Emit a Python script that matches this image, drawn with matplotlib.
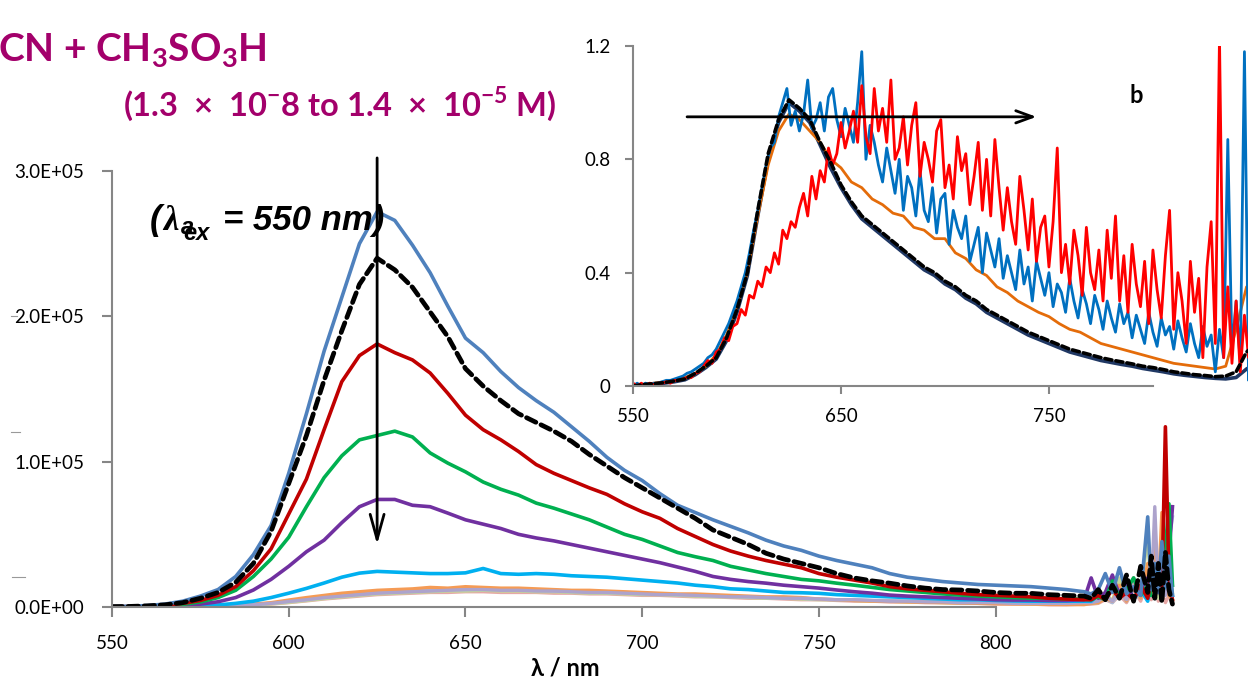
import matplotlib
matplotlib.use('Agg')
import matplotlib.pyplot as plt
from matplotlib.lines import Line2D

plt.rcParams['font.family'] = ['Lato', 'DejaVu Sans']

W, H = 1248, 680

# ---- main panel: emission spectra, counts in thousands ----
wl = list(range(550, 826, 5)) + [827, 829, 831, 833, 835, 837, 839, 841, 843,
                                  844, 845, 846, 847, 848, 849, 850]

blue_k = [0.3, 0.5, 1.0, 2.0, 4.0, 7.5, 12, 21, 36, 56,
          92, 133, 176, 213, 250, 272, 266, 249, 230, 207,
          185, 175, 162, 151, 142, 134, 124, 114, 103, 94,
          87, 78, 70, 65, 60, 55.5, 51, 46, 42, 39,
          35, 32, 29.5, 27, 23, 20.5, 19, 17.5, 16.5, 15.5,
          15, 14.5, 14, 13, 12, 10.5,
          9, 12, 23, 10, 27, 9, 14, 8, 62, 12, 30, 10, 45, 14, 35, 8]
black_k = [0.3, 0.4, 0.8, 1.5, 3.0, 6.0, 10, 17, 30, 52,
           85, 118, 156, 190, 222, 240, 232, 220, 203, 186,
           164, 152, 142, 133, 127, 121, 114, 105, 97, 89,
           82, 75, 68, 61, 53, 48, 43, 37, 33, 30,
           27, 23, 20, 18, 16.4, 14.5, 13, 12, 11.7, 11,
           10, 9.5, 9.4, 8.5, 8, 7.5,
           6, 12, 5, 15, 6, 22, 4, 28, 10, 35, 6, 30, 3, 38, 12, 2]
red_k = [0.2, 0.3, 0.6, 1.2, 2.5, 4.5, 8, 14, 25, 40,
         64, 88, 122, 155, 173, 181, 175, 170, 161, 147,
         132, 122, 115, 107, 98, 92, 87, 82, 77.5, 71,
         65.5, 61, 54, 48.5, 43, 38.5, 35, 32, 29.5, 27,
         23, 20.5, 18.5, 16.5, 14, 12.5, 11.5, 10.5, 9.4, 8.5,
         8, 7.5, 7, 6, 5.5, 5,
         5, 8, 5, 12, 6, 10, 5, 15, 6, 20, 8, 15, 10, 124, 20, 5]
green_k = [0.1, 0.2, 0.4, 0.9, 1.8, 3.5, 6.5, 11.5, 21, 33,
           48, 69, 89, 104, 115, 118, 121, 117, 106, 99,
           93, 86, 81, 77, 71.5, 68, 64, 60, 55, 50,
           46.5, 42, 37.5, 34.6, 32, 28, 25.5, 23, 21, 19,
           18, 16.4, 15, 13.5, 12, 11, 10, 9, 8.2, 7.5,
           7, 6.5, 6, 6, 5.5, 5.5,
           5, 7, 5, 18, 6, 12, 20, 8, 15, 8, 25, 12, 30, 40, 71, 15]
purple_k = [0.1, 0.1, 0.2, 0.5, 1.0, 2.0, 3.6, 6.5, 11.7, 19,
            28, 38, 46, 58, 69, 74, 74, 70, 69, 64.6,
            60, 57, 54, 50, 47.5, 45.5, 43, 40.5, 38, 35.5,
            33, 30.5, 27.5, 24.5, 21, 19, 17.5, 16.4, 15, 14,
            13, 11.7, 10.5, 9.5, 8.2, 7.5, 7, 6.5, 6, 5.5,
            5, 4.8, 4.8, 4.5, 4.5, 5,
            20, 6, 10, 22, 8, 15, 6, 12, 20, 8, 15, 10, 25, 15, 35, 69]
ltblue_k = [0, 0.1, 0.1, 0.2, 0.4, 0.8, 1.4, 2.5, 4.0, 6.5,
            9.5, 12.8, 16.5, 20.5, 23.3, 24.5, 24, 23.5, 23, 23,
            23.5, 26.5, 23, 22.5, 23, 22.5, 21.5, 21, 20.5, 19.5,
            18.5, 17.5, 16.5, 15, 14, 12.5, 12, 11, 10, 9.8,
            9.4, 8.5, 8, 7.5, 7, 6.5, 6, 5.5, 5, 5,
            4.5, 4.2, 4, 4, 4, 4,
            4, 8, 5, 15, 6, 18, 5, 12, 4, 20, 8, 30, 10, 15, 25, 8]
orange_k = [0, 0, 0.1, 0.2, 0.3, 0.5, 0.8, 1.2, 2.0, 3.0,
            4.8, 6.5, 8.0, 9.5, 10.5, 11.5, 12, 12.5, 13.5, 13,
            14, 13.5, 13, 13, 12.5, 12, 11.5, 11.5, 11, 10.5,
            10, 9.5, 9, 9, 8.5, 8, 7.5, 7, 7, 6.5,
            5.5, 5, 4.5, 4, 3.8, 3.5, 3.2, 3, 2.8, 2.5,
            2.3, 2.1, 2, 1.8, 1.7, 1.6,
            2.5, 3, 6, 4, 15, 4, 20, 6, 30, 8, 45, 10, 65, 20, 8, 5]
lavender_k = [0, 0, 0.1, 0.1, 0.2, 0.4, 0.6, 1.0, 1.6, 2.5,
              3.8, 5.0, 6.5, 7.5, 8.5, 9.5, 10, 10.5, 11, 11.5,
              12, 12, 11.5, 11.5, 11, 11, 10.5, 10, 10, 9.5,
              9, 8.5, 8.5, 8, 7.5, 7, 7, 6.5, 6, 6,
              5.5, 5, 5, 4.5, 4, 4, 3.5, 3.5, 3, 3,
              3, 2.5, 2.5, 2.5, 2.5, 3,
              3, 4, 8, 4, 12, 5, 20, 8, 15, 10, 69, 10, 25, 8, 30, 15]
ltgreen_k = [0, 0, 0.1, 0.1, 0.2, 0.3, 0.5, 0.9, 1.4, 2.2,
             3.2, 4.5, 5.8, 7, 8, 9, 9.5, 10, 10.5, 11,
             11, 11.5, 11, 11, 10.5, 10.5, 10, 9.5, 9.5, 9,
             8.5, 8.5, 8, 7.5, 7, 7, 6.5, 6, 6, 5.5,
             5, 5, 4.5, 4, 4, 3.5, 3.5, 3, 3, 2.5,
             2.5, 2.5, 2, 2, 2, 2.5,
             2.5, 3, 10, 4, 20, 6, 15, 10, 48, 10, 25, 6, 50, 12, 35, 10]
pink_k = [0, 0, 0, 0.1, 0.2, 0.3, 0.5, 0.8, 1.3, 2.0,
          3.0, 4.2, 5.5, 6.5, 7.5, 8.5, 9, 9.5, 10, 10,
          10.5, 10.5, 10, 10, 10, 9.5, 9.5, 9, 9, 8.5,
          8, 8, 7.5, 7, 7, 6.5, 6, 6, 5.5, 5,
          5, 4.5, 4, 4, 3.5, 3.5, 3, 3, 2.5, 2.5,
          2, 2, 2, 1.5, 1.5, 2,
          2, 2.5, 5, 3, 8, 3, 12, 4, 18, 5, 14, 4, 10, 3, 8, 3]
steel_k = [0, 0, 0.1, 0.1, 0.2, 0.4, 0.6, 1.0, 1.7, 2.6,
           3.8, 5.2, 6.5, 7.8, 8.8, 9.8, 10.5, 11, 11.5, 12,
           12, 12.5, 12, 12, 11.5, 11, 11, 10.5, 10, 10,
           9.5, 9, 8.5, 8.5, 8, 7.5, 7, 6.5, 6.5, 6,
           5.5, 5, 5, 4.5, 4.5, 4, 4, 3.5, 3.5, 3,
           3, 3, 2.5, 2.5, 2.5, 3,
           3, 3.5, 6, 3, 10, 4, 15, 6, 25, 8, 40, 12, 30, 15, 45, 62]

# ---- inset: normalised spectra ----
ins_wl5 = list(range(550, 851, 5))
ins_wl2 = list(range(550, 851, 2))

ins_black = [0.0, 0.005, 0.008, 0.012, 0.018, 0.025, 0.045, 0.07, 0.10, 0.17,
             0.27, 0.40, 0.62, 0.82, 0.94, 1.01, 0.98, 0.94, 0.86, 0.79,
             0.71, 0.65, 0.60, 0.57, 0.54, 0.51, 0.48, 0.45, 0.42, 0.40,
             0.37, 0.35, 0.32, 0.30, 0.27, 0.25, 0.23, 0.21, 0.19, 0.175,
             0.16, 0.145, 0.13, 0.12, 0.11, 0.10, 0.092, 0.085, 0.078, 0.07,
             0.065, 0.058, 0.05, 0.045, 0.04, 0.037, 0.033, 0.035, 0.05, 0.12,
             0.15]
ins_navy = [0.0, 0.003, 0.006, 0.01, 0.015, 0.022, 0.04, 0.065, 0.095, 0.16,
            0.26, 0.39, 0.60, 0.80, 0.93, 1.0, 0.97, 0.93, 0.85, 0.77,
            0.70, 0.64, 0.59, 0.56, 0.53, 0.50, 0.47, 0.44, 0.41, 0.39,
            0.36, 0.34, 0.31, 0.29, 0.26, 0.24, 0.22, 0.20, 0.18, 0.165,
            0.15, 0.135, 0.12, 0.11, 0.10, 0.09, 0.083, 0.076, 0.07, 0.062,
            0.056, 0.05, 0.043, 0.038, 0.034, 0.03, 0.027, 0.025, 0.03, 0.06,
            0.08]
ins_orange = [0.0, 0.005, 0.01, 0.015, 0.02, 0.03, 0.045, 0.07, 0.11, 0.18,
              0.28, 0.40, 0.60, 0.78, 0.90, 0.96, 0.94, 0.90, 0.86, 0.80,
              0.77, 0.72, 0.70, 0.66, 0.64, 0.61, 0.60, 0.56, 0.55, 0.52,
              0.52, 0.47, 0.45, 0.41, 0.39, 0.35, 0.33, 0.30, 0.28, 0.26,
              0.245, 0.22, 0.20, 0.19, 0.17, 0.15, 0.14, 0.13, 0.12, 0.11,
              0.10, 0.09, 0.08, 0.075, 0.07, 0.065, 0.06, 0.07, 0.20, 0.35,
              0.2]
ins_blue = [0.0, 0.01, 0.0, 0.01, 0.005, 0.01, 0.01, 0.015, 0.02, 0.02,
            0.025, 0.03, 0.035, 0.045, 0.05, 0.06, 0.07, 0.08, 0.10, 0.11,
            0.13, 0.16, 0.19, 0.22, 0.26, 0.30, 0.35, 0.40, 0.47, 0.55,
            0.62, 0.70, 0.78, 0.84, 0.86, 0.95, 1.0, 1.05, 0.92, 0.97,
            0.90, 0.96, 1.08, 0.91, 0.94, 1.0, 0.90, 1.02, 1.05, 0.94,
            0.88, 0.98, 0.92, 0.86, 1.0, 1.18, 0.80, 0.92, 0.86, 0.78,
            0.72, 0.84, 0.76, 0.68, 0.80, 0.62, 0.74, 0.70, 0.60, 0.76,
            0.62, 0.58, 0.70, 0.54, 0.66, 0.68, 0.50, 0.62, 0.56, 0.52,
            0.60, 0.44, 0.50, 0.56, 0.40, 0.54, 0.48, 0.42, 0.52, 0.38,
            0.46, 0.40, 0.34, 0.48, 0.36, 0.42, 0.30, 0.44, 0.38, 0.32,
            0.40, 0.28, 0.36, 0.33, 0.26, 0.38, 0.30, 0.24, 0.34, 0.29,
            0.22, 0.32, 0.27, 0.20, 0.30, 0.24, 0.19, 0.29, 0.22, 0.26,
            0.17, 0.25, 0.20, 0.15, 0.26, 0.19, 0.14, 0.24, 0.18, 0.21,
            0.13, 0.23, 0.17, 0.12, 0.22, 0.15, 0.10, 0.21, 0.14, 0.18,
            0.05, 0.20, 0.10, 0.87, 0.12, 0.30, 0.08, 1.18, 0.02, 0.50,
            0.10]
ins_red = [0.01, 0.0, 0.01, 0.0, 0.01, 0.005, 0.01, 0.01, 0.015, 0.01,
           0.02, 0.02, 0.025, 0.03, 0.03, 0.045, 0.05, 0.07, 0.09, 0.08,
           0.12, 0.13, 0.17, 0.16, 0.21, 0.22, 0.27, 0.25, 0.32, 0.31,
           0.37, 0.35, 0.42, 0.40, 0.47, 0.43, 0.55, 0.52, 0.58, 0.56,
           0.63, 0.68, 0.60, 0.74, 0.66, 0.76, 0.72, 0.84, 0.78, 0.82,
           0.93, 0.84, 0.90, 0.97, 0.86, 1.06, 0.88, 0.82, 1.05, 0.90,
           0.98, 0.86, 1.08, 0.80, 0.84, 0.95, 0.78, 0.92, 1.0, 0.74,
           0.86, 0.80, 0.72, 0.90, 0.94, 0.70, 0.78, 0.66, 0.88, 0.76,
           0.82, 0.64, 0.74, 0.86, 0.62, 0.80, 0.60, 0.87, 0.70, 0.55,
           0.70, 0.58, 0.50, 0.74, 0.62, 0.48, 0.66, 0.44, 0.56, 0.60,
           0.42, 0.58, 0.84, 0.40, 0.50, 0.36, 0.55, 0.46, 0.32, 0.56,
           0.40, 0.34, 0.48, 0.30, 0.55, 0.38, 0.60, 0.30, 0.46, 0.26,
           0.50, 0.36, 0.28, 0.44, 0.22, 0.48, 0.34, 0.24, 0.46, 0.62,
           0.20, 0.40, 0.30, 0.15, 0.44, 0.26, 0.38, 0.10, 0.42, 0.58,
           0.15, 1.23, 0.10, 0.35, 0.08, 0.30, 0.05, 0.25, 0.10, 0.20,
           0.10]

GREY = '#868686'
MAG = '#A3006B'


def fx(px):
    return px / W


def fy(py):
    return 1 - py / H


fig = plt.figure(figsize=(W / 100, H / 100), dpi=100)

# main axes
ax = fig.add_axes([fx(112), fy(607), 1064 / W, 436 / H])
ax.patch.set_alpha(0)
ax.set_xlim(550, 851)
ax.set_ylim(0, 300000)

faint = [(pink_k, '#E6A8A6'), (ltgreen_k, '#C3D69B'), (steel_k, '#A7BEDC'),
         (orange_k, '#F59B55'), (lavender_k, '#ADA3CC')]
for vals, c in faint:
    ax.plot(wl, [v * 1000 for v in vals], color=c, lw=2.4)
for vals, c in [(ltblue_k, '#00B0F0'), (purple_k, '#7030A0'),
                (green_k, '#00B050'), (red_k, '#C00000'), (blue_k, '#4F81BD')]:
    ax.plot(wl, [v * 1000 for v in vals], color=c, lw=2.6)
ax.plot(wl, [v * 1000 for v in black_k], color='black', lw=3.4,
        dashes=(2.2, 1.2), dash_capstyle='round')

for s in ['top', 'right']:
    ax.spines[s].set_visible(False)
for s in ['left', 'bottom']:
    ax.spines[s].set_color(GREY)
    ax.spines[s].set_linewidth(1.5)
ax.spines['bottom'].set_bounds(550, 800)
ax.set_xticks(range(550, 801, 50))
ax.set_yticks([0, 100000, 200000, 300000])
ax.set_yticklabels(['0.0E+00', '1.0E+05', '2.0E+05', '3.0E+05'])
ax.tick_params(direction='out', length=7, width=1.5, color=GREY,
               labelsize=13.5, pad=13)

ax.annotate('', xy=(625, 43000), xytext=(625, 309000), annotation_clip=False,
            arrowprops=dict(arrowstyle='->,head_length=0.9,head_width=0.25',
                            lw=2, color='black', shrinkA=0, shrinkB=0,
                            mutation_scale=20))

# inset
axi = fig.add_axes([fx(633), fy(386), 626 / W, 340 / H])
axi.set_facecolor('white')
axi.set_xlim(550, 851)
axi.set_ylim(0, 1.2)
axi.plot(ins_wl5, ins_navy, color='#203864', lw=2.6)
axi.plot(ins_wl5, ins_orange, color='#E46C0A', lw=2.0)
axi.plot(ins_wl2, ins_blue, color='#0070C0', lw=2.0)
axi.plot(ins_wl2, ins_red, color='#FF0000', lw=2.0)
axi.plot(ins_wl5, ins_black, color='black', lw=2.6, dashes=(2, 1.1),
         dash_capstyle='round')

for s in ['top', 'right']:
    axi.spines[s].set_visible(False)
for s in ['left', 'bottom']:
    axi.spines[s].set_color(GREY)
    axi.spines[s].set_linewidth(1.5)
axi.spines['bottom'].set_bounds(550, 800)
axi.set_xticks([550, 650, 750])
axi.set_yticks([0, 0.4, 0.8, 1.2])
axi.set_yticklabels(['0', '0.4', '0.8', '1.2'])
axi.tick_params(direction='out', length=6, width=1.5, color=GREY,
                labelsize=13.5, pad=10)
axi.text(792, 1.027, 'b', fontsize=17, fontweight='bold', ha='center',
         va='center')
axi.annotate('', xy=(744, 0.95), xytext=(576, 0.95),
             arrowprops=dict(arrowstyle='->,head_length=0.6,head_width=0.22',
                             lw=2, color='black', shrinkA=0, shrinkB=0,
                             mutation_scale=20))

# titles
fig.text(fx(-2), fy(62), r'CN + CH$_\mathregular{3}$SO$_\mathregular{3}$H',
         fontsize=28, fontweight='bold', color=MAG, va='baseline')
fig.text(fx(123), fy(116),
         r'(1.3  ×  10$^\mathregular{-}$8 to 1.4  ×  10$^\mathregular{-5}$ M)',
         fontsize=23.5, fontweight='bold', color=MAG, va='baseline')

# excitation note
bi = dict(fontweight='bold', fontstyle='italic', va='baseline', color='black')
fig.text(fx(150), fy(230), '(', family=['Liberation Sans'], fontsize=25, **bi)
fig.text(fx(163), fy(230), 'λ', family=['Liberation Serif', 'DejaVu Serif'],
         fontsize=25, **bi)
fig.text(fx(181), fy(234), 'a', family=['Liberation Sans'], fontsize=17, **bi)
fig.text(fx(183), fy(240), 'ex', family=['Liberation Sans'], fontsize=17, **bi)
fig.text(fx(223), fy(230), '= 550 nm)', family=['Liberation Sans'],
         fontsize=25, **bi)

fig.text(fx(565), fy(668), 'λ / nm', fontsize=17, fontweight='bold',
         ha='center', va='center')

# small stray marks at the left edge
for x0, x1, y in [(11, 17, 316), (11, 20, 432), (12, 25, 577)]:
    fig.add_artist(Line2D([fx(x0), fx(x1)], [fy(y), fy(y)], color='#999999',
                          lw=0.8))

fig.savefig('out.png', dpi=100)
